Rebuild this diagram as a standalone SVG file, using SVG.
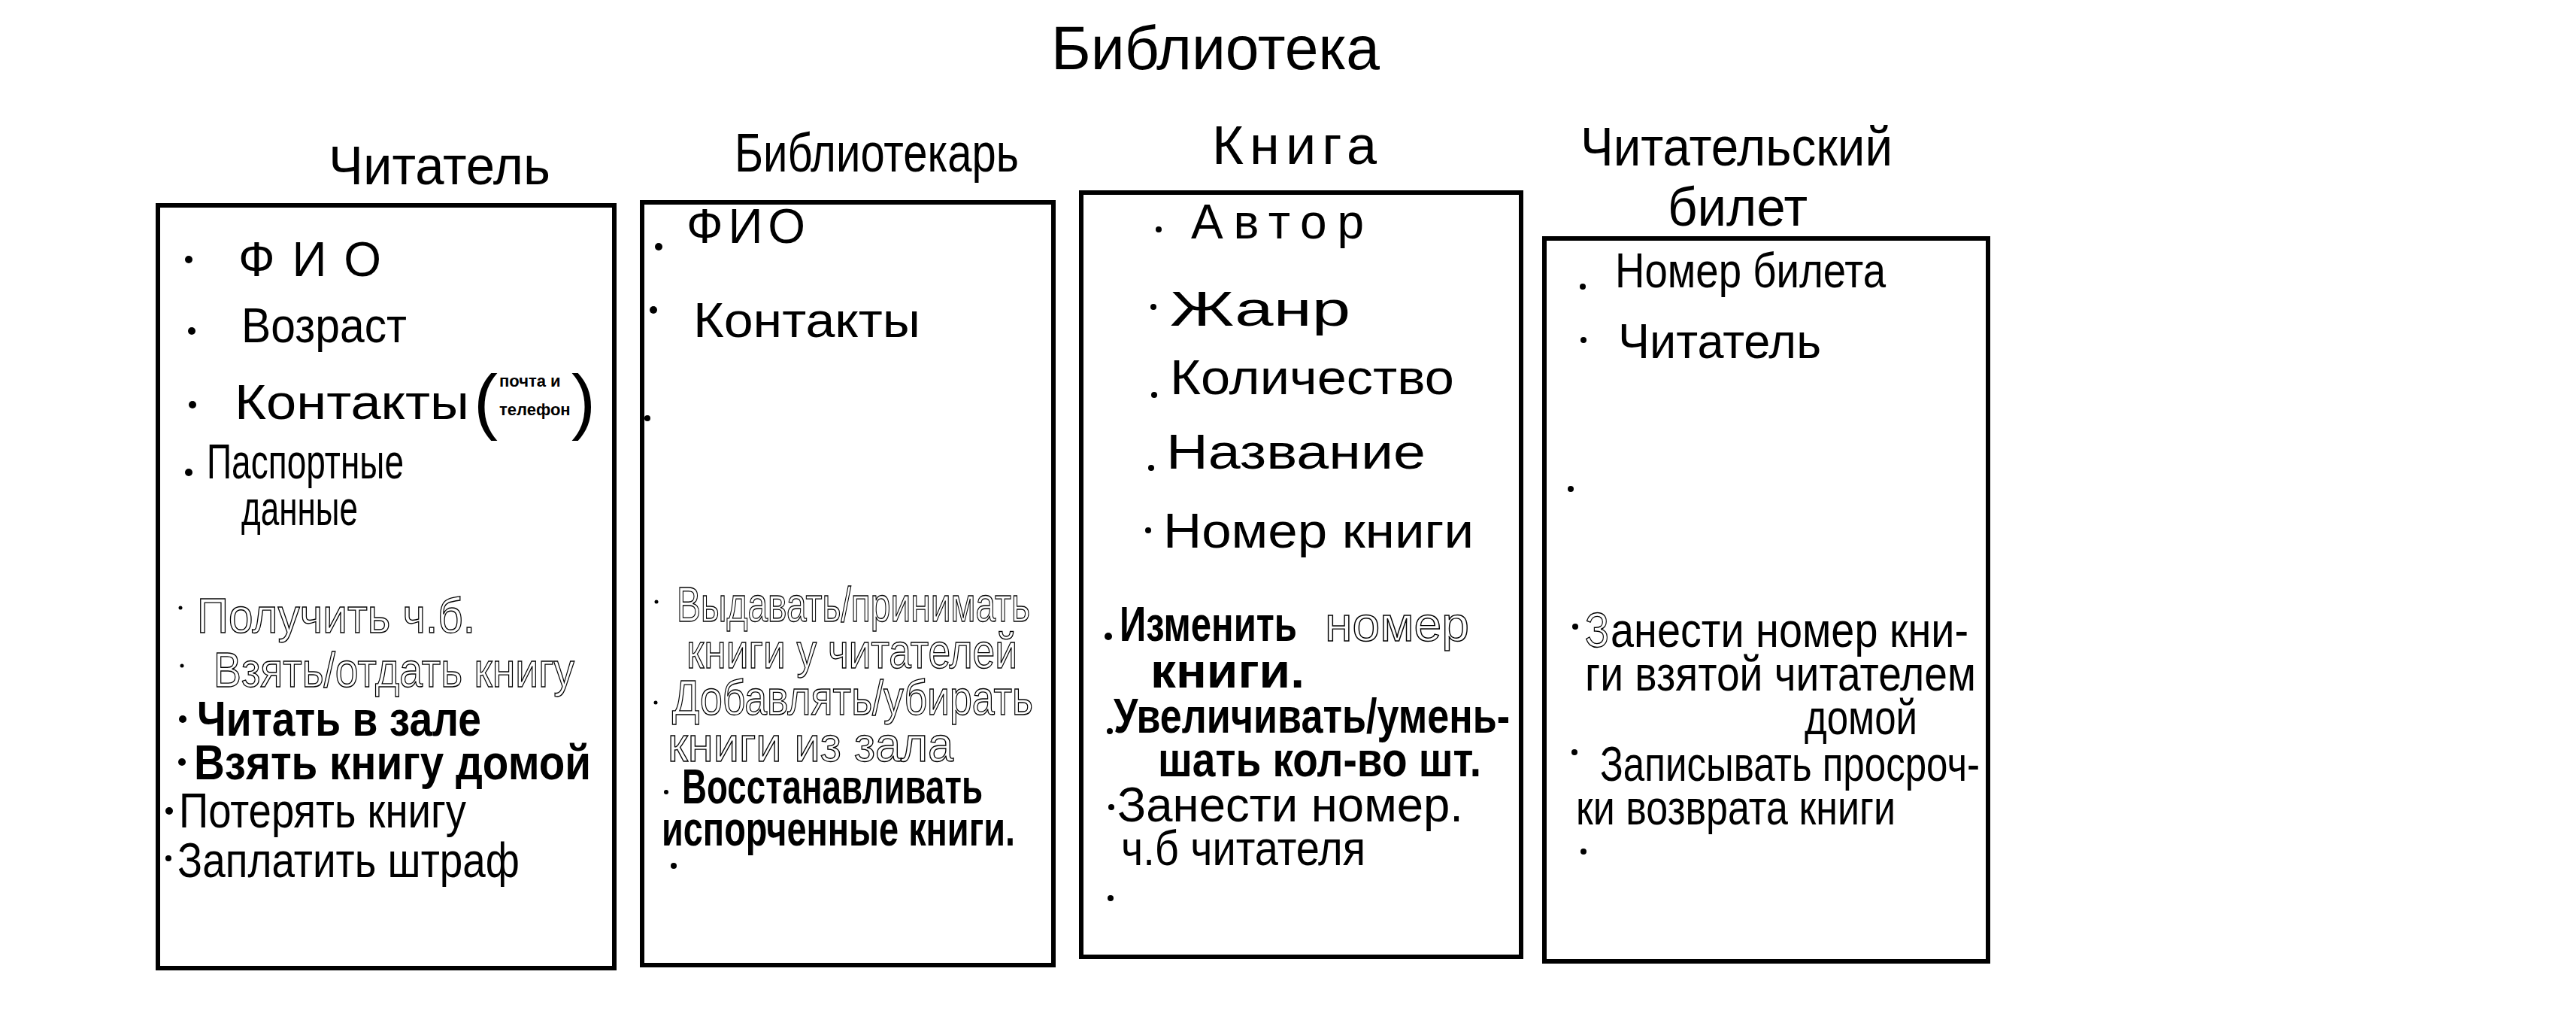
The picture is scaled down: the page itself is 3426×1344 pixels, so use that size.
<svg xmlns="http://www.w3.org/2000/svg" width="3426" height="1344" viewBox="0 0 3426 1344">
  <style>
    text { font-family: "Liberation Sans", "DejaVu Sans", sans-serif; fill: #000; }
    .title { font-size: 82px; }
    .head { font-size: 72px; }
    .item { font-size: 64px; }
    .small { font-size: 22px; }
    .paren { font-size: 96px; }
    .bold { font-weight: bold; }
    .hollow { fill: none; stroke: #000; stroke-width: 1.4; }
    .box { fill: #fff; stroke: #000; stroke-width: 6; }
    .dot { fill: #000; }
  </style>

  <rect width="3426" height="1344" fill="#fff"/>

  <text class="title" x="1398" y="92" textLength="437" lengthAdjust="spacingAndGlyphs">Библиотека</text>

  <!-- Читатель -->
  <g id="reader">
    <text class="head" x="437" y="245" textLength="295" lengthAdjust="spacingAndGlyphs">Читатель</text>
    <rect class="box" x="210" y="273" width="607" height="1014"/>
    <circle class="dot" cx="251" cy="345" r="5"/>
    <text class="item" x="317" y="367" font-size="84" textLength="190" lengthAdjust="spacing">ФИО</text>
    <circle class="dot" cx="255" cy="440" r="5"/>
    <text class="item" x="321" y="455" textLength="220" lengthAdjust="spacingAndGlyphs">Возраст</text>
    <circle class="dot" cx="256" cy="538" r="5"/>
    <text class="item" x="312" y="557" textLength="312" lengthAdjust="spacingAndGlyphs">Контакты</text>
    <text class="paren" x="630" y="566">(</text>
    <text class="small bold" x="664" y="514">почта и</text>
    <text class="small bold" x="664" y="552">телефон</text>
    <text class="paren" x="760" y="566">)</text>
    <circle class="dot" cx="251" cy="628" r="5"/>
    <text class="item" x="275" y="636" font-size="38" textLength="262" lengthAdjust="spacingAndGlyphs">Паспортные</text>
    <text class="item" x="321" y="698" font-size="36" textLength="155" lengthAdjust="spacingAndGlyphs">данные</text>
    <circle class="dot" cx="240" cy="808" r="2.5"/>
    <text class="item hollow" x="262" y="841" font-size="54" textLength="370" lengthAdjust="spacingAndGlyphs">Получить ч.б.</text>
    <circle class="dot" cx="242" cy="885" r="2.5"/>
    <text class="item hollow" x="284" y="913" font-size="54" textLength="480" lengthAdjust="spacingAndGlyphs">Взять/отдать книгу</text>
    <circle class="dot" cx="243" cy="956" r="5"/>
    <text class="item bold" x="262" y="978" font-size="44" textLength="378" lengthAdjust="spacingAndGlyphs">Читать в зале</text>
    <circle class="dot" cx="242" cy="1013" r="5"/>
    <text class="item bold" x="258" y="1036" font-size="44" textLength="528" lengthAdjust="spacingAndGlyphs">Взять книгу домой</text>
    <circle class="dot" cx="225" cy="1078" r="5"/>
    <text class="item" x="238" y="1100" font-size="48" textLength="382" lengthAdjust="spacingAndGlyphs">Потерять книгу</text>
    <circle class="dot" cx="224" cy="1141" r="4"/>
    <text class="item" x="236" y="1166" font-size="50" textLength="455" lengthAdjust="spacingAndGlyphs">Заплатить штраф</text>
  </g>

  <!-- Библиотекарь -->
  <g id="librarian">
    <text class="head" x="977" y="228" textLength="378" lengthAdjust="spacingAndGlyphs">Библиотекарь</text>
    <rect class="box" x="854" y="269" width="547" height="1014"/>
    <circle class="dot" cx="876" cy="328" r="5"/>
    <text class="item" x="913" y="323" font-size="70" textLength="158" lengthAdjust="spacing">ФИО</text>
    <circle class="dot" cx="869" cy="412" r="5"/>
    <text class="item" x="922" y="448" font-size="60" textLength="302" lengthAdjust="spacingAndGlyphs">Контакты</text>
    <circle class="dot" cx="861" cy="556" r="4"/>
    <circle class="dot" cx="873" cy="800" r="2.5"/>
    <text class="item hollow" x="900" y="826" font-size="46" textLength="470" lengthAdjust="spacingAndGlyphs">Выдавать/принимать</text>
    <text class="item hollow" x="913" y="888" font-size="46" textLength="440" lengthAdjust="spacingAndGlyphs">книги у читателей</text>
    <circle class="dot" cx="872" cy="934" r="2.5"/>
    <text class="item hollow" x="894" y="950" font-size="46" textLength="480" lengthAdjust="spacingAndGlyphs">Добавлять/убирать</text>
    <text class="item hollow" x="888" y="1012" font-size="46" textLength="380" lengthAdjust="spacingAndGlyphs">книги из зала</text>
    <circle class="dot" cx="886" cy="1053" r="3"/>
    <text class="item bold" x="907" y="1068" font-size="40" textLength="400" lengthAdjust="spacingAndGlyphs">Восстанавливать</text>
    <text class="item bold" x="880" y="1124" font-size="38" textLength="470" lengthAdjust="spacingAndGlyphs">испорченные книги.</text>
    <circle class="dot" cx="896" cy="1151" r="4"/>
  </g>

  <!-- Книга -->
  <g id="book">
    <text class="head" x="1612" y="218" textLength="219" lengthAdjust="spacing">Книга</text>
    <rect class="box" x="1438" y="256" width="585" height="1016"/>
    <circle class="dot" cx="1541" cy="305" r="4"/>
    <text class="item" x="1584" y="317" font-size="76" textLength="230" lengthAdjust="spacing">Автор</text>
    <circle class="dot" cx="1534" cy="408" r="4"/>
    <text class="item" x="1556" y="433" font-size="68" textLength="240" lengthAdjust="spacingAndGlyphs">Жанр</text>
    <circle class="dot" cx="1535" cy="525" r="4"/>
    <text class="item" x="1556" y="524" font-size="68" textLength="378" lengthAdjust="spacingAndGlyphs">Количество</text>
    <circle class="dot" cx="1531" cy="622" r="4"/>
    <text class="item" x="1551" y="623" font-size="64" textLength="345" lengthAdjust="spacingAndGlyphs">Название</text>
    <circle class="dot" cx="1527" cy="705" r="4"/>
    <text class="item" x="1547" y="728" font-size="68" textLength="413" lengthAdjust="spacingAndGlyphs">Номер книги</text>
    <circle class="dot" cx="1474" cy="846" r="5"/>
    <text class="item bold" x="1489" y="852" font-size="48" textLength="236" lengthAdjust="spacingAndGlyphs">Изменить</text>
    <text class="item hollow" x="1762" y="852" font-size="46" textLength="192" lengthAdjust="spacingAndGlyphs">номер</text>
    <text class="item bold" x="1530" y="914" font-size="44" textLength="205" lengthAdjust="spacingAndGlyphs">книги.</text>
    <circle class="dot" cx="1476" cy="972" r="4"/>
    <text class="item bold" x="1481" y="974" font-size="44" textLength="527" lengthAdjust="spacingAndGlyphs">Увеличивать/умень-</text>
    <text class="item bold" x="1540" y="1032" font-size="32" textLength="430" lengthAdjust="spacingAndGlyphs">шать кол-во шт.</text>
    <circle class="dot" cx="1478" cy="1073" r="4"/>
    <text class="item" x="1486" y="1092" font-size="42" textLength="460" lengthAdjust="spacingAndGlyphs">Занести номер.</text>
    <text class="item" x="1491" y="1150" font-size="34" textLength="325" lengthAdjust="spacingAndGlyphs">ч.б читателя</text>
    <circle class="dot" cx="1477" cy="1194" r="4"/>
  </g>

  <!-- Читательский билет -->
  <g id="card">
    <text class="head" x="2102" y="220" font-size="60" textLength="415" lengthAdjust="spacingAndGlyphs">Читательский</text>
    <text class="head" x="2218" y="300" font-size="58" textLength="186" lengthAdjust="spacingAndGlyphs">билет</text>
    <rect class="box" x="2054" y="317" width="590" height="961"/>
    <circle class="dot" cx="2105" cy="381" r="4"/>
    <text class="item" x="2148" y="382" font-size="58" textLength="360" lengthAdjust="spacingAndGlyphs">Номер билета</text>
    <circle class="dot" cx="2106" cy="452" r="4"/>
    <text class="item" x="2152" y="476" font-size="58" textLength="270" lengthAdjust="spacingAndGlyphs">Читатель</text>
    <circle class="dot" cx="2089" cy="650" r="4"/>
    <circle class="dot" cx="2095" cy="833" r="4"/>
    <text class="item hollow" x="2108" y="860" font-size="46" textLength="32" lengthAdjust="spacingAndGlyphs">З</text>
    <text class="item" x="2142" y="860" font-size="44" textLength="476" lengthAdjust="spacingAndGlyphs">анести номер кни-</text>
    <text class="item" x="2108" y="918" font-size="42" textLength="520" lengthAdjust="spacingAndGlyphs">ги взятой читателем</text>
    <text class="item" x="2400" y="976" font-size="32" textLength="150" lengthAdjust="spacingAndGlyphs">домой</text>
    <circle class="dot" cx="2094" cy="1000" r="4"/>
    <text class="item" x="2128" y="1038" font-size="48" textLength="505" lengthAdjust="spacingAndGlyphs">Записывать просроч-</text>
    <text class="item" x="2096" y="1096" font-size="40" textLength="425" lengthAdjust="spacingAndGlyphs">ки возврата книги</text>
    <circle class="dot" cx="2106" cy="1132" r="4"/>
  </g>
</svg>
